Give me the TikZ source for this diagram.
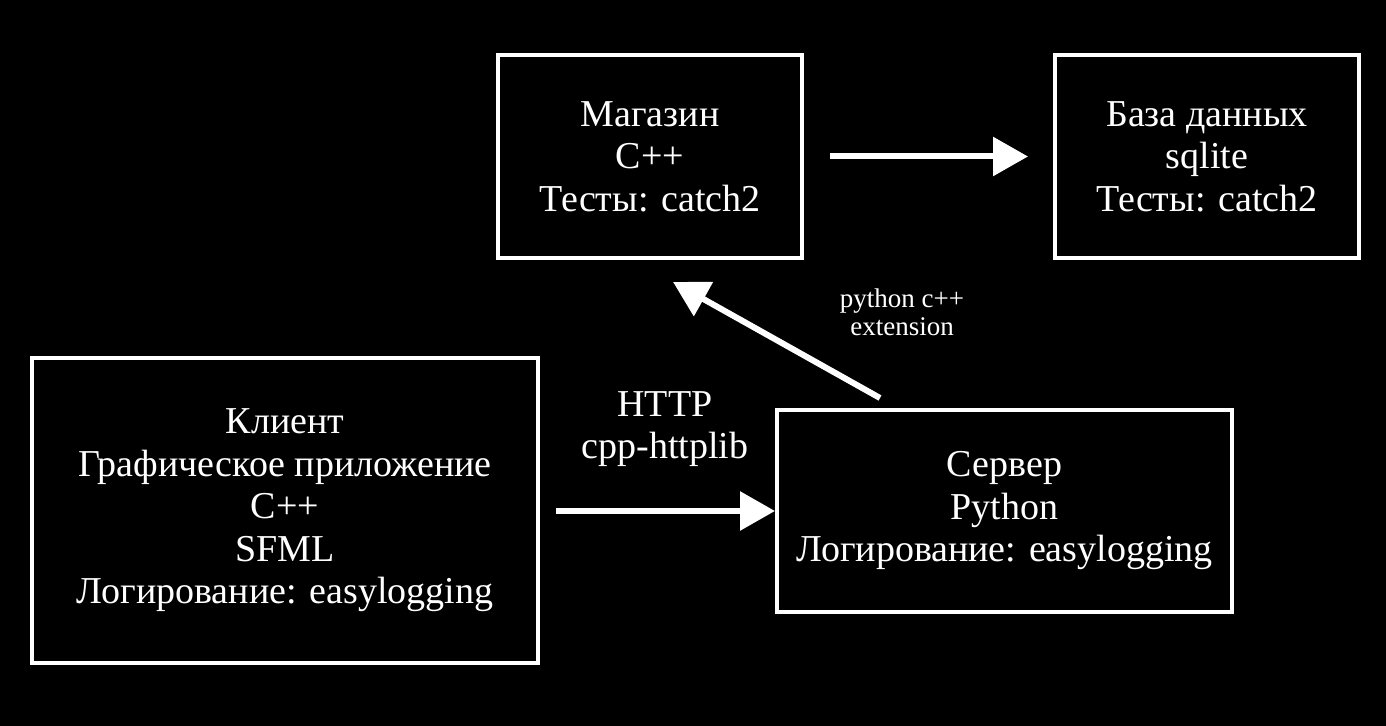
\documentclass[tikz,border=0pt]{standalone}
\usepackage{fontspec}
\setmainfont{Liberation Serif}
\usetikzlibrary{arrows.meta}
\begin{document}
\begin{tikzpicture}[x=0.5pt,y=-0.5pt,
  box/.style={draw=white,line width=2pt,text=white,align=center,inner sep=0pt,
    font=\fontsize{19}{21.25}\selectfont},
  lbl/.style={text=white,align=center,inner sep=0pt},
  conn/.style={draw=white,line width=3pt,-{Triangle[length=17.5pt,width=19pt]}}]
\fill[black] (0,0) rectangle (1386,726);
\useasboundingbox (0,0) rectangle (1386,726);
\node[box,minimum width=152pt,minimum height=101.5pt] (shop) at (650,156.5) {Магазин\\C++\\Тесты: catch2};
\node[box,minimum width=152pt,minimum height=101.5pt] (db) at (1207,156.5) {База данных\\sqlite\\Тесты: catch2};
\node[box,minimum width=253pt,minimum height=152.5pt] (client) at (285,510.5) {Клиент\\Графическое приложение\\C++\\SFML\\Логирование: easylogging};
\node[box,minimum width=227.5pt,minimum height=101pt] (server) at (1004.5,511) {Сервер\\Python\\Логирование: easylogging};
\node[lbl,font=\fontsize{19}{21}\selectfont] (http) at (665,429) {HTTP\\cpp-httplib};
\node[lbl,font=\fontsize{13.5}{14}\selectfont] (ext) at (902,312) {python c++\\extension};
\coordinate (extfrom) at (880,398);
\coordinate (extto) at (673,282);
\draw[conn,shorten <=13pt,shorten >=12.5pt] (shop.east) -- (db.west);
\draw[conn,shorten <=8pt] (client.east |- server.west) -- (server.west);
\draw[conn] (extfrom) -- (extto);
\end{tikzpicture}
\end{document}
